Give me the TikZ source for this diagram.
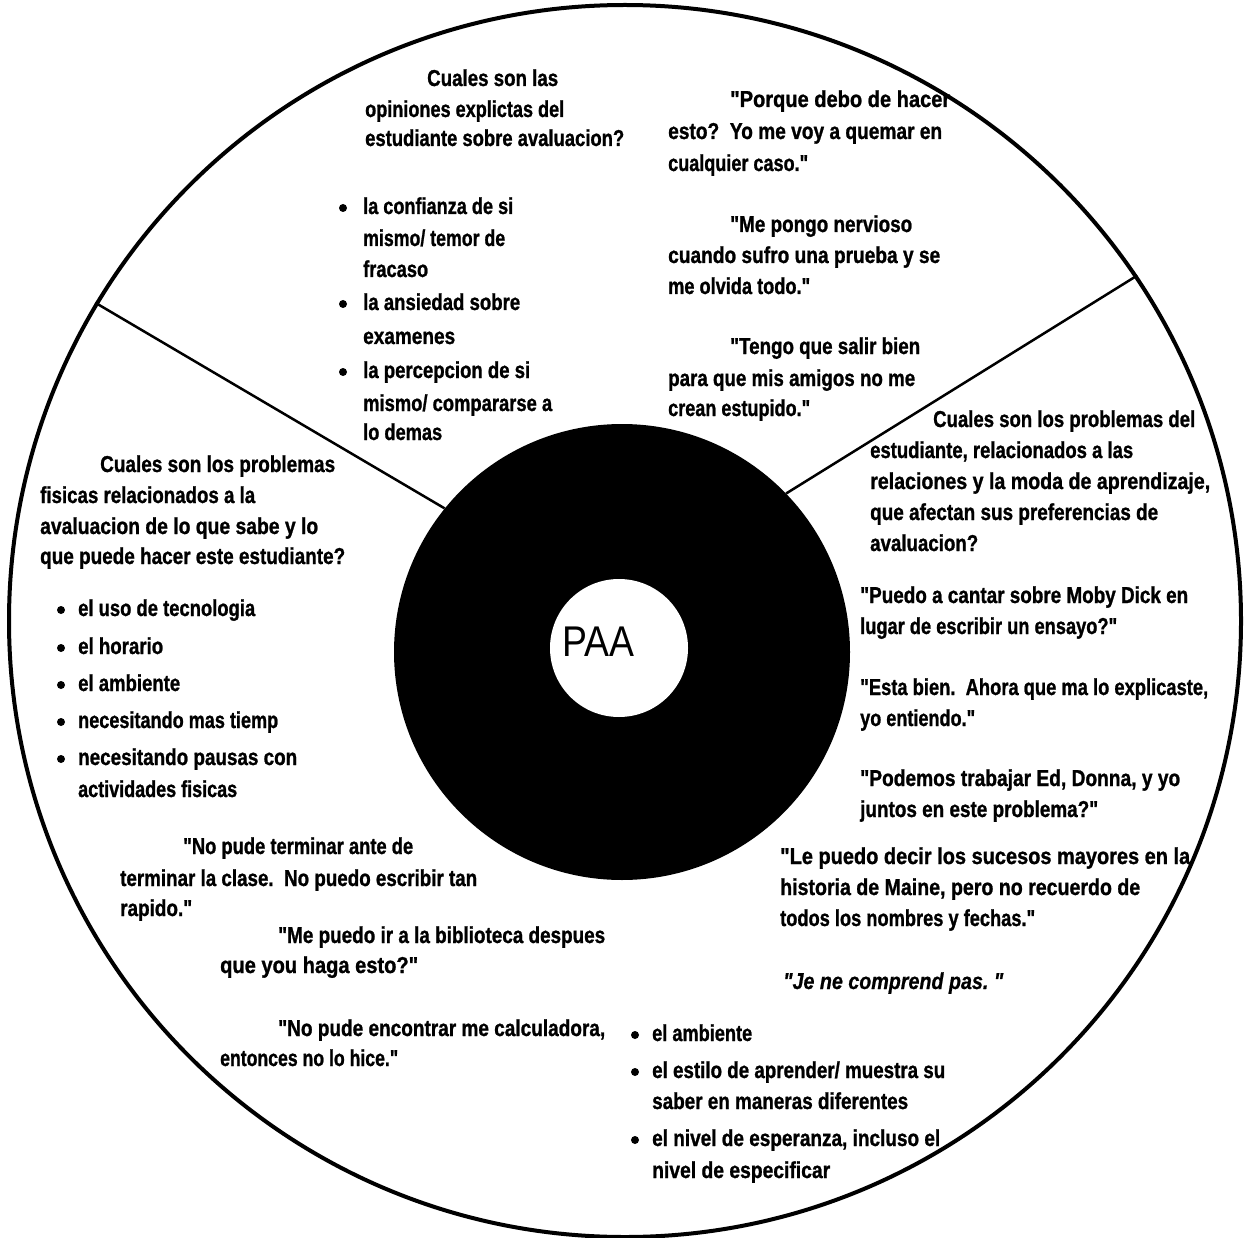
\documentclass[tikz,border=0pt]{standalone}
\usepackage{fontspec}
\setmainfont{Liberation Sans}[Ligatures=TeXOff, BoldFeatures={FakeBold=1.2}, BoldItalicFeatures={FakeBold=0.8}]
% squeeze a line of text to a given width, keeping its height
\newcommand{\fitw}[2]{\resizebox{#1pt}{\height}{#2}}
% one text line: name, left x, middle y, width, text
\newcommand{\wline}[5]{\node[txt] (#1) at (#2,#3) {\fitw{#4}{#5}};}

\begin{document}
\begin{tikzpicture}[x=1pt,y=-1pt,
  txt/.style={anchor=west, inner sep=0pt, text height=17pt, text depth=5pt,
              font=\fontsize{23}{27}\selectfont\bfseries},
  dot/.style={circle, fill=black, inner sep=0pt, minimum size=8pt},
  divider/.style={line width=2.5pt}]

\useasboundingbox (0,0) rectangle (1252,1238);

% rings
\node[circle, draw, line width=4pt, minimum size=1232pt, inner sep=0pt] (outer) at (625,621) {};
\node[circle, fill=black, minimum size=456pt, inner sep=0pt] (disk) at (622,652) {};
\node[circle, fill=white, minimum size=138pt, inner sep=0pt] (hub) at (619,648) {};
\node[inner sep=0pt, font=\fontsize{43}{43}\selectfont] (paa) at (598,642) {\fitw{72}{PAA}};

% sector dividers
\draw[divider] (outer.149) -- (disk.141);
\draw[divider] (outer.34) -- (disk.44);

% top sector: opinions
\wline{a1}{427}{80}{131}{Cuales son las}
\wline{a2}{365}{111}{199}{opiniones explictas del}
\wline{a3}{365}{140}{259}{estudiante sobre avaluacion?}
\node[dot] (ad1) at (343,208) {};
\wline{a4}{363}{208}{150}{la confianza de si}
\wline{a5}{363}{240}{142}{mismo/ temor de}
\wline{a6}{363}{271}{65}{fracaso}
\node[dot] (ad2) at (343,304) {};
\wline{a7}{363}{304}{157}{la ansiedad sobre}
\wline{a8}{363}{338}{92}{examenes}
\node[dot] (ad3) at (343,372) {};
\wline{a9}{363}{372}{167}{la percepcion de si}
\wline{a10}{363}{405}{189}{mismo/ compararse a}
\wline{a11}{363}{434}{79}{lo demas}

% top-right quotes
\wline{b1}{730}{101}{220}{"Porque debo de hacer}
\wline{b2}{668}{133}{274}{esto?\ \ Yo me voy a quemar en}
\wline{b3}{668}{165}{140}{cualquier caso."}
\wline{b4}{730}{226}{182}{"Me pongo nervioso}
\wline{b5}{668}{257}{272}{cuando sufro una prueba y se}
\wline{b6}{668}{288}{142}{me olvida todo."}
\wline{b7}{730}{348}{190}{"Tengo que salir bien}
\wline{b8}{668}{380}{247}{para que mis amigos no me}
\wline{b9}{668}{410}{142}{crean estupido."}

% right sector: relations and learning style
\wline{c1}{933}{421}{262}{Cuales son los problemas del}
\wline{c2}{870}{452}{263}{estudiante, relacionados a las}
\wline{c3}{870}{483}{340}{relaciones y la moda de aprendizaje,}
\wline{c4}{870}{514}{288}{que afectan sus preferencias de}
\wline{c5}{870}{545}{108}{avaluacion?}
\wline{c6}{860}{597}{328}{"Puedo a cantar sobre Moby Dick en}
\wline{c7}{860}{628}{257}{lugar de escribir un ensayo?"}
\wline{c8}{860}{689}{348}{"Esta bien.\ \ Ahora que ma lo explicaste,}
\wline{c9}{860}{720}{115}{yo entiendo."}
\wline{c10}{860}{780}{320}{"Podemos trabajar Ed, Donna, y yo}
\wline{c11}{860}{811}{238}{juntos en este problema?"}
\wline{c12}{780}{858}{410}{"Le puedo decir los sucesos mayores en la}
\wline{c13}{780}{889}{360}{historia de Maine, pero no recuerdo de}
\wline{c14}{780}{920}{255}{todos los nombres y fechas."}
\node[txt, font=\fontsize{23}{27}\selectfont\bfseries\itshape] (c15) at (783,983) {\fitw{220}{"Je ne comprend pas.~"}};
\node[dot] (cd1) at (635,1035) {};
\wline{c16}{652}{1035}{100}{el ambiente}
\node[dot] (cd2) at (635,1072) {};
\wline{c17}{652}{1072}{293}{el estilo de aprender/ muestra su}
\wline{c18}{652}{1103}{256}{saber en maneras diferentes}
\node[dot] (cd3) at (635,1140) {};
\wline{c19}{652}{1140}{288}{el nivel de esperanza, incluso el}
\wline{c20}{652}{1172}{178}{nivel de especificar}

% left sector: physical issues
\wline{d1}{100}{466}{235}{Cuales son los problemas}
\wline{d2}{40}{497}{215}{fisicas relacionados a la}
\wline{d3}{40}{528}{278}{avaluacion de lo que sabe y lo}
\wline{d4}{40}{558}{305}{que puede hacer este estudiante?}
\node[dot] (dd1) at (61,610) {};
\wline{d5}{78}{610}{177}{el uso de tecnologia}
\node[dot] (dd2) at (61,648) {};
\wline{d6}{78}{648}{85}{el horario}
\node[dot] (dd3) at (61,685) {};
\wline{d7}{78}{685}{102}{el ambiente}
\node[dot] (dd4) at (61,722) {};
\wline{d8}{78}{722}{200}{necesitando mas tiemp}
\node[dot] (dd5) at (61,759) {};
\wline{d9}{78}{759}{219}{necesitando pausas con}
\wline{d10}{78}{791}{159}{actividades fisicas}

% bottom-left quotes
\wline{e1}{183}{848}{230}{"No pude terminar ante de}
\wline{e2}{120}{880}{357}{terminar la clase.\ \ No puedo escribir tan}
\wline{e3}{120}{910}{72}{rapido."}
\wline{e4}{278}{937}{327}{"Me puedo ir a la biblioteca despues}
\wline{e5}{220}{967}{198}{que you haga esto?"}
\wline{e6}{278}{1030}{327}{"No pude encontrar me calculadora,}
\wline{e7}{220}{1060}{178}{entonces no lo hice."}

\end{tikzpicture}
\end{document}
